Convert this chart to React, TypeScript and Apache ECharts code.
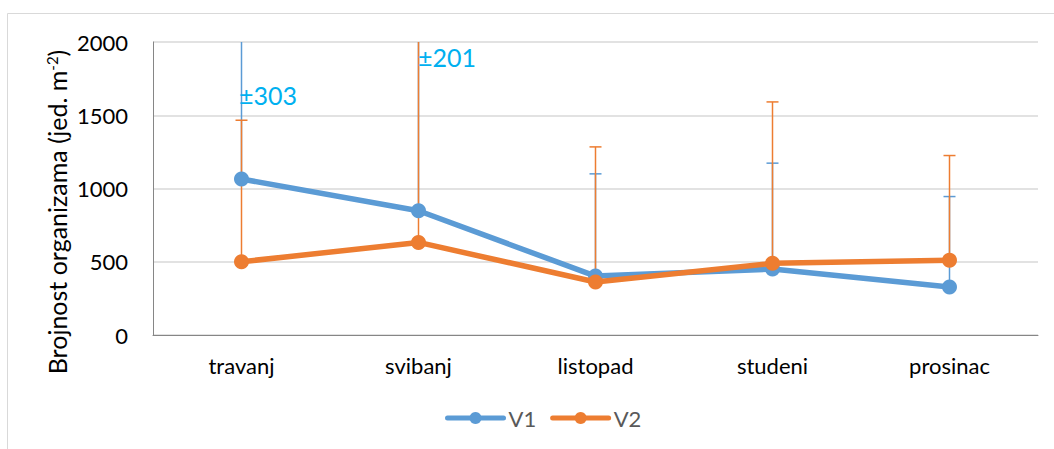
import React, { useEffect, useRef } from "react";
import * as echarts from "echarts";

const categories = ["travanj", "svibanj", "listopad", "studeni", "prosinac"];
const v1 = [1065, 848, 402, 450, 327];
const v2 = [500, 632, 362, 489, 511];
const v1Err = [1250, 1300, 698, 723, 618];
const v2Err = [966, 1500, 922, 1102, 714];
const yTicks = { min: 0, max: 2000, interval: 500 };
const annotations = [
  { text: "±303", x: 239, y: 95 },
  { text: "±201", x: 418, y: 57 },
];

const C1 = "#5B9BD5";
const C2 = "#ED7D31";
const FONT = "Lato, 'Open Sans', sans-serif";
const FS = 22;

function errSeries(vals: number[], errs: number[], color: string, z: number) {
  return {
    type: "custom",
    z,
    silent: true,
    data: vals.map((v, i) => [i, v, v + errs[i]]),
    encode: { x: 0, y: [1, 2] },
    renderItem: (params: any, api: any) => {
      const i = api.value(0);
      const base = api.value(1);
      const top = api.value(2);
      const clipped = top > yTicks.max;
      const p0 = api.coord([i, base]);
      const p1 = api.coord([i, Math.min(top, yTicks.max)]);
      const children: any[] = [
        {
          type: "line",
          shape: { x1: p0[0], y1: p0[1], x2: p1[0], y2: p1[1] },
          style: { stroke: color, lineWidth: 1.5 },
        },
      ];
      if (!clipped) {
        children.push({
          type: "line",
          shape: { x1: p1[0] - 6, y1: p1[1], x2: p1[0] + 6, y2: p1[1] },
          style: { stroke: color, lineWidth: 1.5 },
        });
      }
      return { type: "group", children };
    },
  };
}

export default function App() {
  const ref = useRef<HTMLDivElement>(null);
  useEffect(() => {
    if (!ref.current) return;
    const chart = echarts.init(ref.current, undefined, { renderer: "svg" });
    chart.setOption({
      animation: false,
      backgroundColor: "#fff",
      textStyle: { fontFamily: FONT },
      grid: { left: 153, right: 16, top: 42, bottom: 114 },
      legend: {
        left: 440,
        top: 402,
        itemWidth: 56,
        itemHeight: 15,
        itemGap: 14,
        lineStyle: { width: 5, cap: "round" },
        textStyle: { fontSize: FS, color: "#595959", fontFamily: FONT },
        data: ["V1", "V2"],
      },
      xAxis: {
        type: "category",
        data: categories,
        boundaryGap: true,
        axisLine: { lineStyle: { color: "#868686", width: 1 } },
        axisTick: { show: false },
        axisLabel: { fontSize: FS, color: "#000", margin: 19, fontFamily: FONT },
        splitLine: { show: false },
      },
      yAxis: {
        type: "value",
        min: yTicks.min,
        max: yTicks.max,
        interval: yTicks.interval,
        axisLine: { show: true, lineStyle: { color: "#868686", width: 1 } },
        axisTick: { show: false },
        axisLabel: {
          fontSize: FS,
          color: "#000",
          margin: 25,
          fontFamily: FONT,
          formatter: (v: number) => String(v),
        },
        splitLine: { lineStyle: { color: "#D9D9D9", width: 1.5 } },
      },
      graphic: [
        {
          type: "rect",
          shape: { x: 7.5, y: 13.5, width: 1200, height: 600 },
          style: { fill: "none", stroke: "#D9D9D9", lineWidth: 1 },
          silent: true,
          z: -10,
        },
        {
          type: "text",
          x: 57,
          y: 212,
          rotation: Math.PI / 2,
          style: {
            text: "Brojnost organizama (jed. m{sup|-2})",
            fontSize: 25,
            fontFamily: FONT,
            fill: "#000",
            textAlign: "center",
            textVerticalAlign: "middle",
            rich: {
              sup: { fontSize: 15, verticalAlign: "top", fontFamily: FONT, fill: "#000" },
            },
          },
        },
        ...annotations.map((a) => ({
          type: "text",
          x: a.x,
          y: a.y,
          z: 100,
          style: {
            text: a.text,
            fontSize: 25,
            fontFamily: FONT,
            fill: "#00B0F0",
            textAlign: "left",
            textVerticalAlign: "middle",
          },
        })),
      ],
      series: [
        errSeries(v1, v1Err, C1, 1),
        errSeries(v2, v2Err, C2, 2),
        {
          name: "V1",
          type: "line",
          data: v1,
          z: 3,
          symbol: "circle",
          symbolSize: 15,
          lineStyle: { color: C1, width: 5.5 },
          itemStyle: { color: C1 },
        },
        {
          name: "V2",
          type: "line",
          data: v2,
          z: 4,
          symbol: "circle",
          symbolSize: 15,
          lineStyle: { color: C2, width: 5.5 },
          itemStyle: { color: C2 },
        },
      ],
    });
    return () => chart.dispose();
  }, []);
  return (
    <div
      ref={ref}
      style={{ position: "fixed", left: 0, top: 0, width: 1054, height: 449 }}
    />
  );
}
